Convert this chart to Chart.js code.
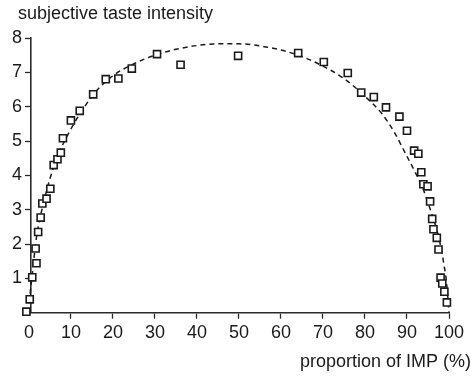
<!DOCTYPE html>
<html>
<head>
<meta charset="utf-8">
<script src="https://cdn.jsdelivr.net/npm/chart.js@4"></script>
<style>
  html, body { margin: 0; padding: 0; background: #fff; }
  #wrap { width: 471px; height: 376px; }
</style>
</head>
<body>
<div id="wrap"><canvas id="myChart" width="471" height="376"></canvas></div>
<script>
// measured points (proportion of IMP %, taste intensity)
const pointX = [-0.6, 0.2, 0.8, 1.8, 1.6, 2.2, 2.8, 3.2, 4.2, 5.1, 5.9, 6.8, 7.6, 8.1, 10.0, 12.1, 15.3, 18.3, 21.3, 24.5, 30.5, 36.1, 49.8,
  64.1, 70.2, 75.9, 79.1, 82.1, 85.0, 88.2, 90.0, 91.7, 92.7, 93.4, 93.9, 94.9, 95.5, 96.0, 96.3, 97.1, 97.5, 98.0, 98.4, 98.9, 99.5];
const pointY = [0.03, 0.39, 1.03, 1.44, 1.87, 2.35, 2.77, 3.18, 3.32, 3.61, 4.30, 4.47, 4.66, 5.08, 5.60, 5.88, 6.36, 6.80, 6.82, 7.11, 7.53, 7.22, 7.48,
  7.56, 7.30, 6.98, 6.41, 6.28, 5.98, 5.71, 5.30, 4.72, 4.63, 4.09, 3.74, 3.68, 3.24, 2.73, 2.43, 2.18, 1.84, 1.02, 0.85, 0.61, 0.30];

// fitted curve
const curveX = [0, 0.3, 0.8, 1.3, 2, 3, 4, 5, 7, 10, 13, 16, 20, 25, 30, 35, 40, 45, 50, 55, 60, 65, 70, 75, 80, 84, 87, 90, 92, 94, 95.7, 97, 98, 98.8, 99.4, 100];
const curveY = [0, 0.55, 1.1, 1.7, 2.35, 2.95, 3.45, 3.9, 4.6, 5.35, 5.95, 6.45, 6.9, 7.25, 7.5, 7.67, 7.78, 7.83, 7.83, 7.77, 7.65, 7.46, 7.18, 6.82, 6.3, 5.8, 5.25, 4.55, 4.08, 3.55, 2.95, 2.45, 1.95, 1.4, 0.9, 0];

const xTicks = [0, 10, 20, 30, 40, 50, 60, 70, 80, 90, 100];
const yTicks = [1, 2, 3, 4, 5, 6, 7, 8];

const yTitle = "subjective taste intensity";
const xTitle = "proportion of IMP (%)";

const FONT = "'Liberation Sans', Arial, Helvetica, sans-serif";
const INK = "#1a1a1a";

const ctx = document.querySelector("#myChart").getContext("2d");

// axis titles drawn as plain canvas text
const axisTitles = {
  id: "axisTitles",
  afterDraw(chart) {
    const c = chart.ctx;
    c.save();
    c.fillStyle = INK;
    c.font = "18px " + FONT;
    c.textBaseline = "alphabetic";
    c.textAlign = "left";
    c.fillText(yTitle, 18, 19);
    c.textAlign = "right";
    c.fillText(xTitle, 471, 367);
    c.restore();
  },
};

const pts = pointX.map((x, i) => ({ x: x, y: pointY[i] }));
const curve = curveX.map((x, i) => ({ x: x, y: curveY[i] }));

const config = {
  type: "scatter",
  data: {
    datasets: [
      {
        data: pts,
        pointStyle: "rect",
        pointRadius: 5,
        pointHoverRadius: 5,
        pointBackgroundColor: "#fff",
        pointBorderColor: INK,
        pointBorderWidth: 1.6,
        clip: false,
        order: 0,
      },
      {
        type: "line",
        data: curve,
        showLine: true,
        fill: false,
        borderColor: INK,
        borderWidth: 1.5,
        borderDash: [5, 4],
        cubicInterpolationMode: "monotone",
        pointRadius: 0,
        clip: false,
        order: 1,
      },
    ],
  },
  options: {
    responsive: false,
    animation: false,
    layout: { padding: { left: 0, top: 38, right: 22, bottom: 0 } },
    plugins: {
      legend: { display: false },
      tooltip: { enabled: false },
    },
    scales: {
      x: {
        type: "linear",
        min: 0.5,
        max: 100,
        afterBuildTicks: (scale) => {
          scale.ticks = xTicks.map((v) => ({ value: v }));
        },
        afterFit: (scale) => {
          scale.height = 376 - 312.7;
        },
        ticks: {
          autoSkip: false,
          maxRotation: 0,
          padding: 4,
          color: INK,
          font: { family: FONT, size: 18 },
        },
        grid: {
          drawOnChartArea: false,
          drawTicks: true,
          tickLength: 6,
          tickWidth: 1.3,
          tickColor: (c) => (c.tick && c.tick.value === 0 ? "rgba(0,0,0,0)" : "#2a2a2a"),
        },
        border: { display: true, color: "#2a2a2a", width: 1.6 },
      },
      y: {
        type: "linear",
        min: 0,
        max: 8,
        afterBuildTicks: (scale) => {
          scale.ticks = [0].concat(yTicks).map((v) => ({ value: v }));
        },
        afterFit: (scale) => {
          scale.width = 31;
        },
        ticks: {
          autoSkip: false,
          padding: 3,
          color: INK,
          font: { family: FONT, size: 18 },
          callback: (v) => (v === 0 ? "" : v),
        },
        grid: {
          drawOnChartArea: false,
          drawTicks: true,
          tickLength: 6,
          tickWidth: 1.3,
          tickColor: (c) => (c.tick && c.tick.value === 0 ? "rgba(0,0,0,0)" : "#2a2a2a"),
        },
        border: { display: true, color: "#2a2a2a", width: 1.6 },
      },
    },
  },
  plugins: [axisTitles],
};

const myChart = new Chart(ctx, config);
</script>
</body>
</html>
